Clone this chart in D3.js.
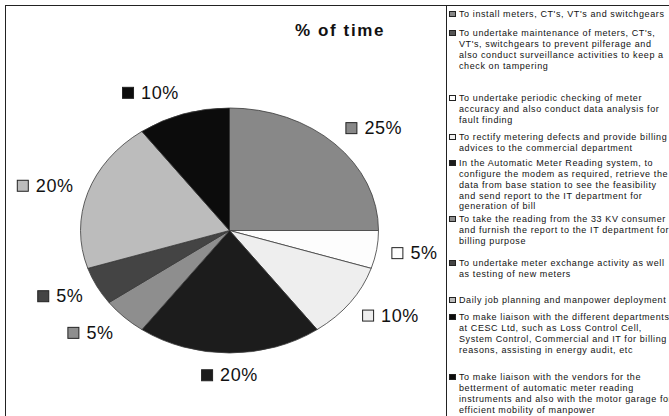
<!DOCTYPE html>
<html>
<head>
<meta charset="utf-8">
<script src="https://cdn.jsdelivr.net/npm/d3@7"></script>
<style>
  html, body { margin: 0; padding: 0; background: #fff; }
  svg { display: block; }
  text { font-family: "Liberation Sans", Arial, sans-serif; }
</style>
</head>
<body>
<svg id="chart" width="669" height="416"></svg>
<script>
// Share of working time per activity (percent), in legend order
const activities = [
  ["To install meters, CT's, VT's and switchgears"],
  ["To undertake maintenance of meters, CT's,", "VT's, switchgears to prevent pilferage and", "also conduct surveillance activities to keep a", "check on tampering"],
  ["To undertake periodic checking of meter", "accuracy and also conduct data analysis for", "fault finding"],
  ["To rectify metering defects and provide billing", "advices to the commercial department"],
  ["In the Automatic Meter Reading system, to", "configure the modem as required, retrieve the", "data from base station to see the feasibility", "and send report to the IT department for", "generation of bill"],
  ["To take the reading from the 33 KV consumer", "and furnish the report to the IT department for", "billing purpose"],
  ["To undertake meter exchange activity as well", "as testing of new meters"],
  ["Daily job planning and manpower deployment"],
  ["To make liaison with the different departments", "at CESC Ltd, such as Loss Control Cell,", "System Control, Commercial and IT for billing", "reasons, assisting in energy audit, etc"],
  ["To make liaison with the vendors for the", "betterment of automatic meter reading", "instruments and also with the motor garage for", "efficient mobility of manpower"]
];
const timeShare = [25, 0, 5, 10, 20, 5, 5, 20, 10, 0];
const fills = ["#888888", "#555555", "#fdfdfd", "#eeeeee", "#1c1c1c", "#8e8e8e", "#444444", "#bcbcbc", "#0c0c0c", "#0c0c0c"];
const title = "% of time";

// Layout
const W = 669, H = 416;
const cx = 229.5, cy = 230.5, rx = 149, ry = 122.5;
const legendX = 446;
const legendFirstLineY = [14, 33, 98, 137, 163, 219, 263, 300, 317, 377];
const legendLineH = 10.8;

const svg = d3.select("#chart");

// chart frame and legend box
svg.append("rect").attr("x", 5.5).attr("y", 5.5).attr("width", W + 10).attr("height", H + 10)
  .attr("fill", "#fff").attr("stroke", "#222").attr("stroke-width", 1);
svg.append("rect").attr("x", legendX + 0.5).attr("y", 5.5).attr("width", W).attr("height", H + 10)
  .attr("fill", "#fff").attr("stroke", "#222").attr("stroke-width", 1);

// title
svg.append("text").attr("x", 340).attr("y", 35.5).attr("text-anchor", "middle")
  .attr("font-size", 17).attr("font-weight", "bold").attr("letter-spacing", 1.6)
  .attr("fill", "#111").text(title);

// pie (stretched into an ellipse)
const data = timeShare.map((v, i) => ({ value: v, fill: fills[i], i }));
const pie = d3.pie().value(d => d.value).sort(null);
const arcs = pie(data);
const arc = d3.arc().innerRadius(0).outerRadius(rx);

const pieG = svg.append("g").attr("transform", `translate(${cx},${cy}) scale(1,${ry / rx})`);
pieG.selectAll("path").data(arcs.filter(a => a.data.value > 0)).join("path")
  .attr("d", arc)
  .attr("fill", d => d.data.fill)
  .attr("stroke", "#3a3a3a")
  .attr("stroke-width", 0.8)
  .attr("vector-effect", "non-scaling-stroke");

// data labels: marker square + percentage placed just outside the ellipse
const total = d3.sum(timeShare);
const k = 1.1;
const labelG = svg.append("g");
arcs.filter(a => a.data.value > 0).forEach(a => {
  const mid = (a.startAngle + a.endAngle) / 2;
  const s = Math.sin(mid), c = Math.cos(mid);
  const px = cx + rx * k * s, py = cy - ry * k * c;
  const g = labelG.append("g");
  const t = g.append("text").attr("font-size", 18).attr("letter-spacing", 0.6)
    .attr("fill", "#111").text(d3.format(".0%")(a.data.value / total));
  const tw = t.node().getComputedTextLength();
  const bw = 12 + 7 + tw, bh = 20;
  const fx = 0.5 - 0.5 * Math.max(-1, Math.min(1, s * 4));
  const fy = (1 + c) / 2;
  const bx = px - fx * bw, by = py - fy * bh;
  g.insert("rect", "text").attr("x", bx + 0.5).attr("y", by + 4.5).attr("width", 11).attr("height", 11)
    .attr("fill", a.data.fill).attr("stroke", "#222").attr("stroke-width", 1);
  t.attr("x", bx + 19).attr("y", by + 16);
});

// legend
const legG = svg.append("g");
activities.forEach((lines, i) => {
  const y0 = legendFirstLineY[i];
  legG.append("rect").attr("x", 449.5).attr("y", y0 - 2.5).attr("width", 6).attr("height", 5)
    .attr("fill", fills[i]).attr("stroke", "#222").attr("stroke-width", 1);
  const t = legG.append("text").attr("font-size", 9).attr("letter-spacing", 0.6).attr("fill", "#111");
  lines.forEach((ln, j) => {
    t.append("tspan").attr("x", 459).attr("y", y0 + 3.2 + j * legendLineH).text(ln);
  });
});
</script>
</body>
</html>
